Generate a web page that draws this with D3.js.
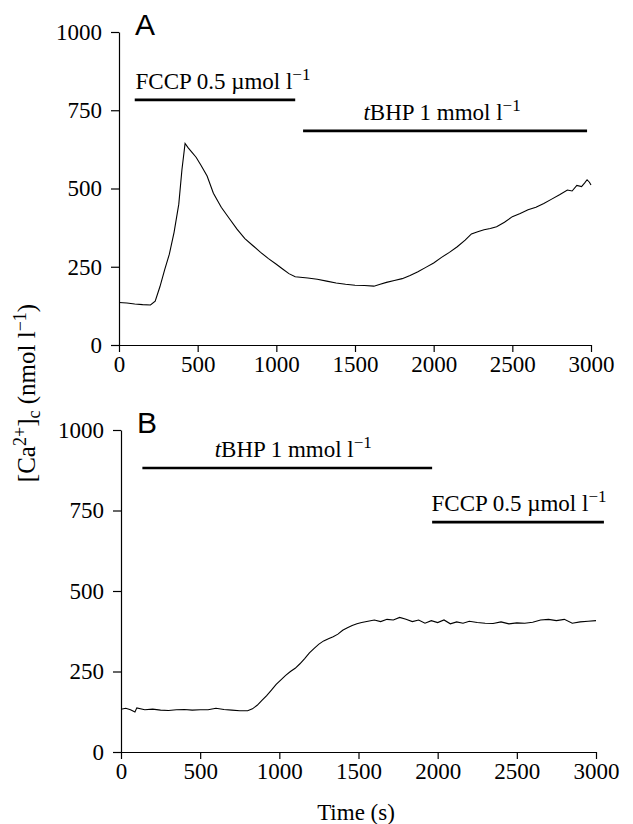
<!DOCTYPE html>
<html>
<head>
<meta charset="utf-8">
<script src="https://cdn.jsdelivr.net/npm/d3@7"></script>
<style>
  html, body { margin: 0; padding: 0; background: #fff; }
  svg { display: block; }
</style>
</head>
<body>
<svg id="chart" width="633" height="824"></svg>
<script>
// ---------- DATA ----------
const xTicks = [0, 500, 1000, 1500, 2000, 2500, 3000];
const yTicks = [0, 250, 500, 750, 1000];

// Panel A trace: time (s) and [Ca2+]c (nmol l-1)
const timeA = [0,50,100,150,200,230,260,290,320,350,380,400,420,440,460,490,520,560,600,650,700,750,800,850,900,950,1000,1040,1080,1120,1200,1260,1320,1380,1440,1500,1560,1620,1660,1700,1750,1800,1850,1900,1950,2000,2050,2100,2150,2200,2240,2280,2320,2360,2400,2450,2500,2550,2600,2650,2700,2750,2800,2850,2880,2910,2940,2960,2975,2990,3000];
const caA   = [136,134,131,129,128,140,186,240,290,360,450,560,644,630,618,600,575,540,485,440,405,370,340,318,296,276,258,243,228,218,214,210,204,198,194,191,190,188,194,200,206,212,222,234,248,262,280,296,314,335,355,362,368,372,378,392,410,420,432,440,452,466,480,495,492,510,506,518,528,520,511];

// Panel B trace
const timeB = [0,30,60,88,100,150,200,250,300,350,400,450,500,550,600,650,700,750,800,830,860,890,920,950,980,1010,1040,1070,1100,1130,1160,1190,1220,1250,1280,1310,1340,1370,1400,1430,1460,1490,1520,1560,1600,1640,1680,1720,1760,1800,1840,1880,1920,1960,2000,2040,2080,2120,2160,2200,2250,2300,2350,2400,2450,2500,2550,2600,2650,2700,2750,2800,2850,2900,2950,3000];
const caB   = [133,136,131,124,137,131,133,130,129,131,132,130,131,131,136,132,130,128,128,134,145,160,175,192,210,224,238,250,260,274,290,308,322,335,345,352,358,366,378,386,393,398,402,406,410,405,412,410,418,412,405,410,400,408,402,410,398,404,400,406,402,400,399,404,398,401,400,403,410,412,408,412,400,404,406,408];

// Treatment bars: drug, start time, end time, level (nmol l-1)
const drugsA  = ["FCCP", "tBHP"];
const startsA = [100, 1170];
const endsA   = [1120, 2975];
const levelsA = [783, 684];

const drugsB  = ["tBHP", "FCCP"];
const startsB = [135, 1965];
const endsB   = [1965, 3050];
const levelsB = [882, 714];

const doseText = { FCCP: ["FCCP 0.5 \u00B5mol l", "\u22121"], tBHP: ["BHP 1 mmol l", "\u22121"] };

// ---------- DRAW ----------
const SERIF = "'Liberation Serif', 'Times New Roman', serif";
const SANS = "'Liberation Sans', Arial, sans-serif";
const svg = d3.select("#chart");
svg.append("rect").attr("width", 633).attr("height", 824).attr("fill", "#fff");

function panel(cfg) {
  const x = d3.scaleLinear().domain([0, 3000]).range(cfg.xr);
  const y = d3.scaleLinear().domain([0, 1000]).range(cfg.yr);
  const g = svg.append("g");

  const ax = g.append("g").attr("transform", `translate(0,${cfg.yr[0]})`)
    .call(d3.axisBottom(x).tickValues(xTicks).tickFormat(d3.format("d")).tickSize(7).tickSizeOuter(0).tickPadding(4));
  const ay = g.append("g").attr("transform", `translate(${cfg.xr[0]},0)`)
    .call(d3.axisLeft(y).tickValues(yTicks).tickFormat(d3.format("d")).tickSize(8).tickSizeOuter(0).tickPadding(9));
  [ax, ay].forEach(a => {
    a.selectAll("path,line").attr("stroke", "#000").attr("stroke-width", 1.2);
    a.selectAll("text").style("font-size", "23px").style("font-family", SERIF).attr("fill", "#000");
  });

  const pts = cfg.t.map((t, i) => [t, cfg.v[i]]);
  g.append("path").datum(pts)
    .attr("fill", "none").attr("stroke", "#000").attr("stroke-width", 1.1)
    .attr("d", d3.line().x(d => x(d[0])).y(d => y(d[1])));

  // panel letter
  g.append("text").attr("x", cfg.xr[0] + 16).attr("y", cfg.yr[1] + 3)
    .style("font-family", SANS).style("font-size", "30px").text(cfg.letter);

  // treatment bars
  cfg.drugs.forEach((d, i) => {
    const x0 = x(cfg.starts[i]), x1 = x(cfg.ends[i]), yy = y(cfg.levels[i]);
    g.append("line").attr("x1", x0).attr("x2", x1).attr("y1", yy).attr("y2", yy)
      .attr("stroke", "#000").attr("stroke-width", 2.7);
    const tx = g.append("text").attr("x", (x0 + x1) / 2 + (cfg.dx ? cfg.dx[i] : 0)).attr("y", yy - 11)
      .attr("text-anchor", "middle").style("font-family", SERIF).style("font-size", "23px");
    if (d === "tBHP") tx.append("tspan").style("font-style", "italic").text("t");
    tx.append("tspan").text(doseText[d][0]);
    tx.append("tspan").style("font-size", "17px").attr("dy", -9).text(doseText[d][1]);
  });
}

panel({ xr: [119, 591], yr: [345, 32], t: timeA, v: caA, letter: "A",
        drugs: drugsA, starts: startsA, ends: endsA, levels: levelsA, dx: [8, -3] });
panel({ xr: [121, 596], yr: [752, 430], t: timeB, v: caB, letter: "B",
        drugs: drugsB, starts: startsB, ends: endsB, levels: levelsB, dx: [6, 1] });

// shared y label
const yl = svg.append("text").attr("transform", "translate(35,393) rotate(-90)")
  .attr("text-anchor", "middle").style("font-family", SERIF).style("font-size", "25px");
yl.append("tspan").text("[Ca");
yl.append("tspan").style("font-size", "18px").attr("dy", -9).text("2+");
yl.append("tspan").attr("dy", 9).text("]");
yl.append("tspan").style("font-size", "18px").attr("dy", 5).text("c");
yl.append("tspan").attr("dy", -5).text(" (nmol l");
yl.append("tspan").style("font-size", "18px").attr("dy", -9).text("\u22121");
yl.append("tspan").attr("dy", 9).text(")");

// x label
svg.append("text").attr("x", 356).attr("y", 820).attr("text-anchor", "middle")
  .style("font-family", SERIF).style("font-size", "23px").text("Time (s)");
</script>
</body>
</html>
